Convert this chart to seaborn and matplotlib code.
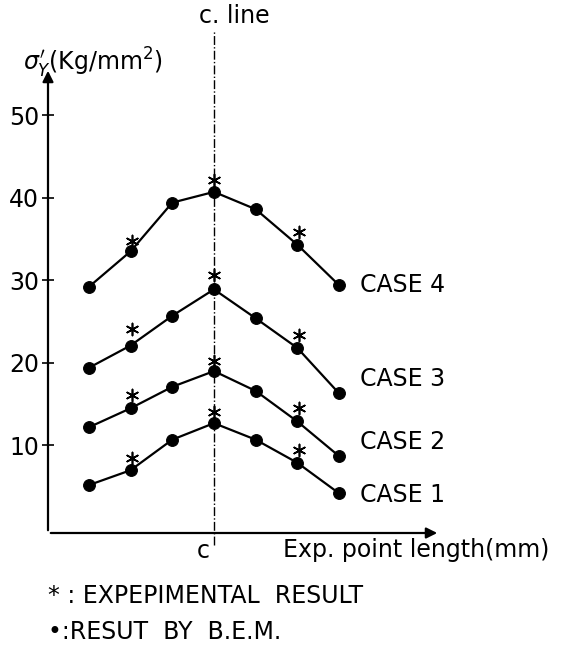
"""Stress distribution along the experiment points - BEM vs experiment."""

import matplotlib

matplotlib.use("Agg")
import matplotlib.pyplot as plt
import pandas as pd
import seaborn as sns

# point positions relative to the centre line (c)
positions = [-3, -2, -1, 0, 1, 2, 3]
exp_positions = [-1.97, 0.0, 2.05]

# B.E.M. results (Kg/mm2)
case1_bem = [5.2, 7.0, 10.7, 12.7, 10.7, 7.9, 4.2]
case2_bem = [12.2, 14.5, 17.1, 19.0, 16.6, 12.9, 8.7]
case3_bem = [19.4, 22.1, 25.7, 28.9, 25.4, 21.8, 16.3]
case4_bem = [29.2, 33.5, 39.4, 40.7, 38.6, 34.3, 29.4]

# experimental results (Kg/mm2)
case1_exp = [8.5, 14.0, 9.4]
case2_exp = [16.1, 20.2, 14.5]
case3_exp = [24.1, 30.6, 23.4]
case4_exp = [34.7, 42.1, 35.8]

case_names = ["CASE 1", "CASE 2", "CASE 3", "CASE 4"]
case_label_y = [4.0, 10.4, 18.0, 29.4]
y_ticks = [10, 20, 30, 40, 50]

bem = pd.concat([
    pd.DataFrame({"x": positions, "y": vals, "case": name})
    for name, vals in zip(case_names, [case1_bem, case2_bem, case3_bem, case4_bem])
])
exp = pd.concat([
    pd.DataFrame({"x": exp_positions, "y": vals, "case": name})
    for name, vals in zip(case_names, [case1_exp, case2_exp, case3_exp, case4_exp])
])

sns.set_style("white")
plt.rcParams["font.family"] = ["Liberation Sans Narrow", "DejaVu Sans"]
plt.rcParams["mathtext.fontset"] = "dejavusans"
plt.rcParams["text.color"] = "black"
plt.rcParams["ytick.color"] = "black"
plt.rcParams["ytick.labelcolor"] = "black"

fig = plt.figure(figsize=(5.62, 6.51), dpi=100)
ax = fig.add_axes([48 / 562, 1 - 533 / 651, (440 - 48) / 562, (533 - 68) / 651])

sns.lineplot(data=bem, x="x", y="y", units="case", estimator=None, color="black",
             marker="o", markersize=8.5, markeredgecolor="black", linewidth=1.6, ax=ax)
sns.scatterplot(data=exp, x="x", y="y", color="black", marker=(6, 2, 0), s=75,
                linewidth=1.2, ax=ax)

ax.set_xlim(-3.98, 5.42)
ax.set_ylim(-0.6, 55.7)

# axes drawn as arrows
for s in ax.spines.values():
    s.set_visible(False)
arrow = dict(arrowstyle="-|>", color="black", lw=1.6, mutation_scale=16)
ax.annotate("", xy=(1, 0), xytext=(0, 0), xycoords="axes fraction", arrowprops=arrow)
ax.annotate("", xy=(0, 1), xytext=(0, 0), xycoords="axes fraction", arrowprops=arrow)

ax.set_xticks([])
ax.set_yticks(y_ticks)
ax.tick_params(axis="y", direction="inout", length=9, width=1.2, left=True,
               labelsize=17, pad=2, colors="black")
ax.set_xlabel("")
ax.set_ylabel("")

# centre line
ax.axvline(0, ymin=-0.026, ymax=1.082, color="black", lw=1, ls="-.", clip_on=False)
ax.text(-0.35, 1.085, "c. line", transform=ax.get_xaxis_transform(), ha="left",
        va="bottom", fontsize=17)
ax.text(-0.1, -0.012, "c", transform=ax.get_xaxis_transform(), ha="right", va="top",
        fontsize=17)

for name, yv in zip(case_names, case_label_y):
    ax.text(3.5, yv, name, ha="left", va="center", fontsize=17)

fig.text(23 / 562, 1 - 63 / 651, r"$\sigma_Y'$(Kg/mm$^2$)", fontsize=17,
         ha="left", va="center")
fig.text(283 / 562, 1 - 550 / 651, "Exp. point length(mm)", fontsize=17,
         ha="left", va="center")
fig.text(48 / 562, 1 - 596 / 651, "* : EXPEPIMENTAL  RESULT", fontsize=17,
         ha="left", va="center")
fig.text(48 / 562, 1 - 632 / 651, "•:RESUT  BY  B.E.M.", fontsize=17,
         ha="left", va="center")

fig.savefig("out.png", dpi=100)
